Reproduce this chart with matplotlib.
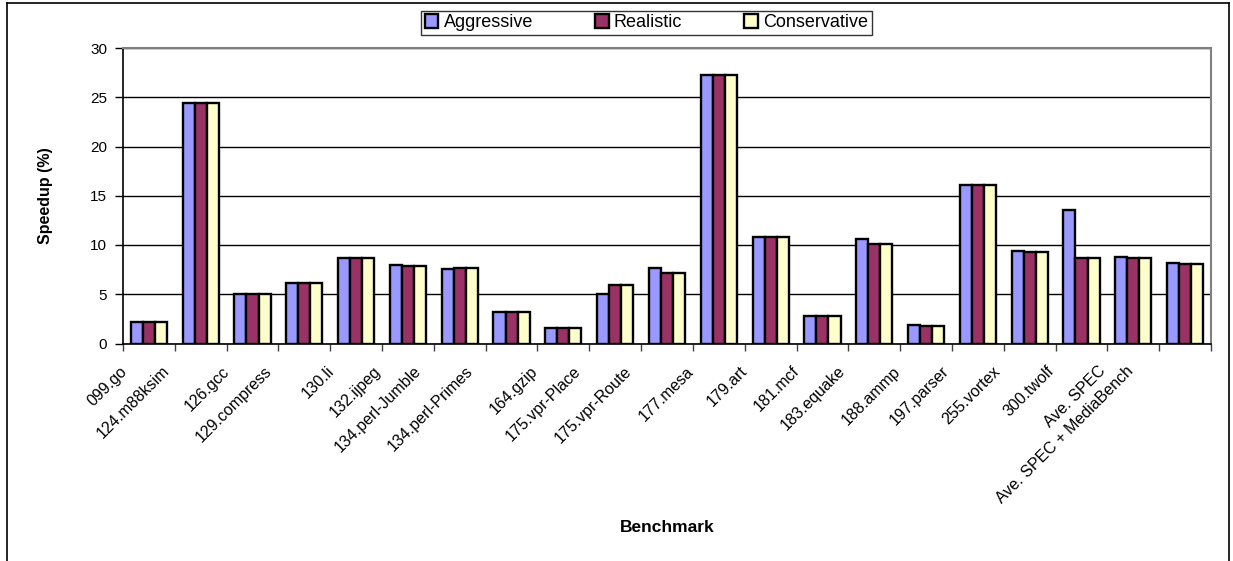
import matplotlib
matplotlib.use('Agg')
import matplotlib.pyplot as plt
from matplotlib.lines import Line2D
from matplotlib.transforms import ScaledTranslation
import numpy as np

plt.rcParams['font.family'] = ['Liberation Sans', 'DejaVu Sans']

# Data
benchmarks = ['099.go', '124.m88ksim', '126.gcc', '129.compress', '130.li',
              '132.ijpeg', '134.perl-Jumble', '134.perl-Primes', '164.gzip',
              '175.vpr-Place', '175.vpr-Route', '177.mesa', '179.art',
              '181.mcf', '183.equake', '188.ammp', '197.parser', '255.vortex',
              '300.twolf', 'Ave. SPEC', 'Ave. SPEC + MediaBench']
aggressive = [2.2, 24.4, 5.0, 6.1, 8.7, 8.0, 7.6, 3.2, 1.6, 5.0, 7.7, 27.3,
              10.8, 2.8, 10.6, 1.9, 16.1, 9.35, 13.6, 8.8, 8.2]
realistic = [2.2, 24.4, 5.05, 6.1, 8.7, 7.9, 7.7, 3.2, 1.6, 5.9, 7.2, 27.3,
             10.8, 2.8, 10.1, 1.8, 16.1, 9.3, 8.7, 8.7, 8.05]
conservative = [2.2, 24.4, 5.05, 6.1, 8.7, 7.9, 7.7, 3.2, 1.6, 5.9, 7.2, 27.3,
                10.8, 2.8, 10.1, 1.8, 16.1, 9.3, 8.7, 8.7, 8.05]
series = ['Aggressive', 'Realistic', 'Conservative']
colors = ['#9999FF', '#993366', '#FFFFCC']
yticks = [0, 5, 10, 15, 20, 25, 30]

fig = plt.figure(figsize=(12.33, 5.61), dpi=100)
ax = fig.add_axes([123 / 1233, 1 - 343.5 / 561, 1088 / 1233, 295.5 / 561])

x = np.arange(len(benchmarks))
w = 0.233
for k, (vals, name, c) in enumerate(zip([aggressive, realistic, conservative], series, colors)):
    ax.bar(x + (k - 1) * w, vals, width=w, color=c, edgecolor='black',
           linewidth=1.7, label=name, zorder=3)

ax.set_xlim(-0.5, len(benchmarks) - 0.5)
ax.set_ylim(0, 30)
ax.set_yticks(yticks)
ax.tick_params(axis='y', labelsize=11, length=5.5, width=1, pad=6)
ax.yaxis.grid(True, color='black', linewidth=1, zorder=0)

# category ticks sit on group boundaries
ax.set_xticks([])
ax.set_xticks(np.arange(len(benchmarks) + 1) - 0.5, minor=True)
ax.tick_params(axis='x', which='minor', length=5, width=1, color='#404040')

for s in ['top', 'right']:
    ax.spines[s].set_color('#808080')
    ax.spines[s].set_linewidth(1.5)
ax.spines['left'].set_linewidth(1.2)
ax.spines['bottom'].set_linewidth(1.2)

# rotated benchmark labels, Excel style
for i, lab in enumerate(benchmarks):
    dx = -(18 + 1.9 * len(lab)) / 100
    off = ScaledTranslation(dx, -20 / 100, fig.dpi_scale_trans)
    ax.text(i, 0, lab, transform=ax.get_xaxis_transform() + off,
            rotation=45, ha='right', va='top', rotation_mode='anchor',
            fontsize=11.5)

ax.set_ylabel('Speedup (%)', fontsize=11.5, fontweight='bold')
ax.yaxis.set_label_coords((53 - 123) / 1088, 0.5)
fig.text(667 / 1233, 1 - 527 / 561, 'Benchmark', ha='center', va='center',
         fontsize=12.5, fontweight='bold')

leg = ax.legend(loc='lower left', ncol=3, mode='expand',
                bbox_to_anchor=(421 / 1233, 1 - 35 / 561, 451 / 1233, 28 / 561),
                bbox_transform=fig.transFigure, borderaxespad=0,
                fontsize=13, frameon=True, fancybox=False,
                handlelength=0.75, handleheight=0.75, handletextpad=0.3,
                borderpad=0.2)
leg.get_frame().set_edgecolor('black')
leg.get_frame().set_linewidth(1)

# outer chart border (no bottom edge)
border = [((7, 561), (7, 3)), ((7, 3), (1229, 3)), ((1229, 3), (1229, 561))]
for (x0, y0), (x1, y1) in border:
    fig.add_artist(Line2D([x0 / 1233, x1 / 1233], [1 - y0 / 561, 1 - y1 / 561],
                          color='black', linewidth=1.2, transform=fig.transFigure))

fig.savefig('out.png', dpi=100)
